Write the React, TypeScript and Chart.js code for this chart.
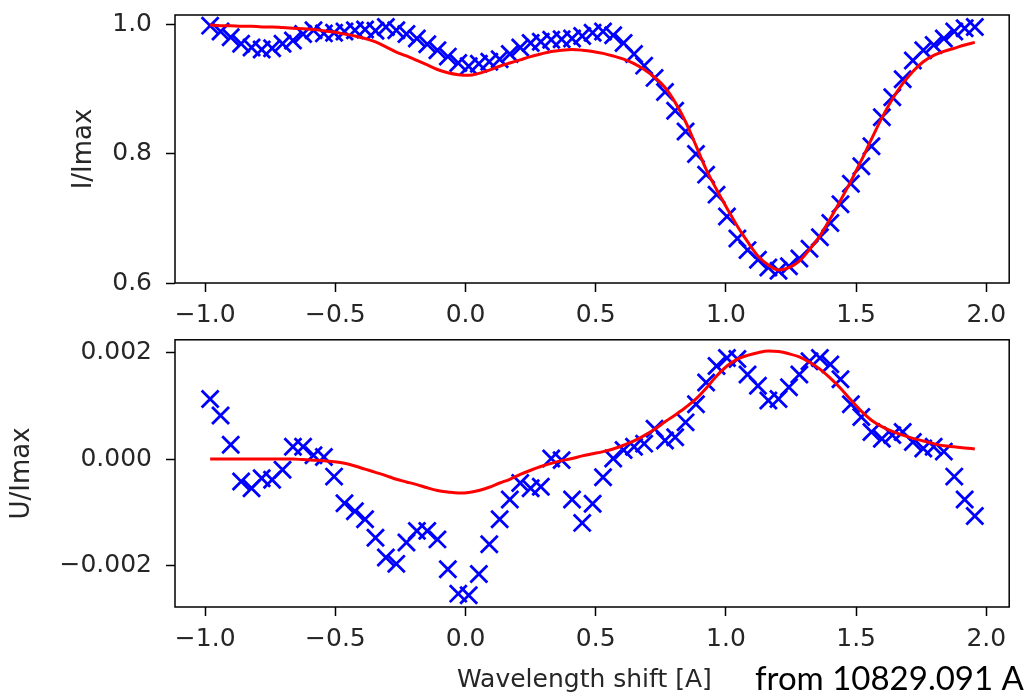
import React, { useEffect, useRef } from 'react';
import { Chart, registerables } from 'chart.js';

Chart.register(...registerables);

// Wavelength shift [A] of each sample
const wavelengthShift = [
  -0.981, -0.941, -0.902, -0.862, -0.822, -0.783, -0.743, -0.703, -0.663, -0.624,
  -0.584, -0.544, -0.505, -0.465, -0.425, -0.386, -0.346, -0.306, -0.266, -0.227,
  -0.187, -0.147, -0.108, -0.068, -0.028, 0.012, 0.051, 0.091, 0.131, 0.170,
  0.210, 0.250, 0.289, 0.329, 0.369, 0.409, 0.448, 0.488, 0.528, 0.567,
  0.607, 0.647, 0.686, 0.726, 0.766, 0.805, 0.845, 0.885, 0.924, 0.964,
  1.004, 1.044, 1.083, 1.123, 1.163, 1.202, 1.242, 1.282, 1.321, 1.361,
  1.401, 1.440, 1.480, 1.520, 1.559, 1.599, 1.639, 1.679, 1.718, 1.758,
  1.798, 1.837, 1.877, 1.917, 1.956,
];

// I/Imax observed (crosses)
const intensityObserved = [
  0.999, 0.990, 0.981, 0.971, 0.965, 0.962, 0.964, 0.971, 0.976, 0.986,
  0.992, 0.987, 0.988, 0.990, 0.992, 0.993, 0.991, 0.997, 0.992, 0.986,
  0.979, 0.970, 0.961, 0.951, 0.941, 0.936, 0.940, 0.943, 0.947, 0.955,
  0.965, 0.972, 0.974, 0.977, 0.978, 0.979, 0.983, 0.988, 0.990, 0.984,
  0.972, 0.955, 0.937, 0.918, 0.896, 0.867, 0.835, 0.800, 0.768, 0.737,
  0.703, 0.669, 0.651, 0.636, 0.624, 0.619, 0.626, 0.638, 0.653, 0.671,
  0.693, 0.722, 0.754, 0.781, 0.812, 0.857, 0.888, 0.916, 0.945, 0.961,
  0.969, 0.979, 0.990, 0.995, 0.997,
];

// I/Imax fit (red line)
const intensityFit = [
  1.000, 0.999, 0.999, 0.998, 0.998, 0.997, 0.997, 0.996, 0.995, 0.994,
  0.993, 0.991, 0.989, 0.986, 0.983, 0.979, 0.974, 0.966, 0.958, 0.952,
  0.945, 0.938, 0.931, 0.926, 0.923, 0.922, 0.925, 0.930, 0.936, 0.941,
  0.946, 0.951, 0.955, 0.959, 0.961, 0.962, 0.961, 0.959, 0.956, 0.952,
  0.947, 0.940, 0.931, 0.919, 0.903, 0.880, 0.850, 0.813, 0.776, 0.745,
  0.716, 0.688, 0.664, 0.642, 0.628, 0.620, 0.624, 0.634, 0.652, 0.673,
  0.700, 0.728, 0.758, 0.790, 0.823, 0.856, 0.885, 0.909, 0.928, 0.943,
  0.953, 0.959, 0.964, 0.969, 0.973,
];

// U/Imax observed, in units of 1e-3
const stokesUObservedE3 = [
  1.13, 0.82, 0.27, -0.42, -0.55, -0.36, -0.39, -0.20, 0.23, 0.23,
  0.07, 0.04, -0.33, -0.83, -0.98, -1.13, -1.48, -1.85, -1.97, -1.57,
  -1.35, -1.35, -1.51, -2.07, -2.53, -2.56, -2.16, -1.60, -1.13, -0.76,
  -0.45, -0.55, -0.52, 0.01, -0.02, -0.76, -1.20, -0.84, -0.34, 0.01,
  0.17, 0.23, 0.29, 0.57, 0.35, 0.41, 0.69, 1.03, 1.44, 1.75,
  1.90, 1.88, 1.59, 1.38, 1.10, 1.13, 1.35, 1.59, 1.84, 1.90,
  1.78, 1.50, 1.03, 0.79, 0.51, 0.38, 0.45, 0.51, 0.32, 0.20,
  0.23, 0.14, -0.33, -0.76, -1.07,
];

// U/Imax fit, in units of 1e-3
const stokesUFitE3 = [
  0.00, 0.00, 0.00, 0.00, 0.00, 0.00, 0.00, 0.00, 0.00, -0.01,
  -0.02, -0.03, -0.05, -0.08, -0.13, -0.19, -0.25, -0.31, -0.38, -0.43,
  -0.48, -0.54, -0.59, -0.62, -0.64, -0.63, -0.59, -0.53, -0.45, -0.38,
  -0.29, -0.21, -0.14, -0.08, -0.03, 0.01, 0.06, 0.10, 0.14, 0.19,
  0.26, 0.34, 0.44, 0.56, 0.70, 0.83, 0.97, 1.13, 1.33, 1.56,
  1.75, 1.88, 1.95, 2.00, 2.03, 2.02, 1.98, 1.92, 1.82, 1.69,
  1.52, 1.33, 1.11, 0.90, 0.73, 0.61, 0.52, 0.45, 0.39, 0.34,
  0.29, 0.25, 0.23, 0.21, 0.19,
];

const xTickValues = [-1.0, -0.5, 0.0, 0.5, 1.0, 1.5, 2.0];
const intensityTickValues = [0.6, 0.8, 1.0];
const stokesUTickValues = [-0.002, 0.0, 0.002];

const xLabel = 'Wavelength shift [A]';
const xLabelNote = 'from 10829.091 A';
const topYLabel = 'I/Imax';
const bottomYLabel = 'U/Imax';

const TEXT = '#262626';
const FONT = "'DejaVu Sans', sans-serif";

function fmt(v: number, digits: number): string {
  const s = Math.abs(v).toFixed(digits);
  return (v < -1e-12 ? '\u2212' : '') + s;
}

function zeroPadding(s: any) {
  s.paddingTop = 0;
  s.paddingBottom = 0;
  s.paddingLeft = 0;
  s.paddingRight = 0;
}

const framePlugin = {
  id: 'frame',
  afterDraw(chart: any) {
    const { ctx, chartArea: a } = chart;
    ctx.save();
    ctx.strokeStyle = '#000';
    ctx.lineWidth = 1.5;
    ctx.strokeRect(a.left, a.top, a.right - a.left, a.bottom - a.top);
    ctx.restore();
  },
};

const noteTextPlugin = {
  id: 'noteText',
  afterDraw(chart: any) {
    const { ctx } = chart;
    ctx.save();
    ctx.fillStyle = TEXT;
    ctx.textBaseline = 'alphabetic';
    ctx.textAlign = 'left';
    ctx.font = `25px ${FONT}`;
    ctx.fillText(xLabel, 457, 362);
    ctx.fillStyle = '#000';
    ctx.font = "33px Lato, 'Open Sans', sans-serif";
    ctx.fillText(xLabelNote, 755, 365);
    ctx.restore();
  },
};

interface PanelOpts {
  obs: number[];
  fit: number[];
  yMin: number;
  yMax: number;
  yTicks: number[];
  yDigits: number;
  yTitle: string;
  yTitlePad: number;
  padTop: number;
  xAxisHeight: number;
  extra: any[];
}

function makeConfig(o: PanelOpts): any {
  const obsPts = o.obs.map((y, i) => ({ x: wavelengthShift[i], y }));
  const fitPts = o.fit.map((y, i) => ({ x: wavelengthShift[i], y }));
  const grid = {
    drawOnChartArea: false,
    drawTicks: true,
    tickLength: 9,
    tickColor: '#000',
    tickWidth: 1.5,
  };
  return {
    type: 'scatter',
    data: {
      datasets: [
        {
          label: 'fit',
          data: fitPts,
          showLine: true,
          borderColor: '#ff0000',
          backgroundColor: '#ff0000',
          borderWidth: 3,
          pointRadius: 0,
          cubicInterpolationMode: 'monotone',
          order: 0,
        },
        {
          label: 'observed',
          data: obsPts,
          showLine: false,
          pointStyle: 'crossRot',
          pointRadius: 12,
          pointBorderWidth: 2.8,
          borderColor: '#0000ff',
          backgroundColor: '#0000ff',
          order: 1,
        },
      ],
    },
    options: {
      responsive: false,
      animation: false,
      devicePixelRatio: 1,
      layout: { padding: { left: 0, right: 4, top: o.padTop, bottom: 0 } },
      plugins: { legend: { display: false }, tooltip: { enabled: false } },
      scales: {
        x: {
          type: 'linear',
          min: -1.116,
          max: 2.088,
          afterBuildTicks: (s: any) => {
            s.ticks = xTickValues.map((v) => ({ value: v }));
          },
          afterFit: (s: any) => {
            s.height = o.xAxisHeight;
            zeroPadding(s);
          },
          ticks: {
            callback: (v: any) => fmt(Number(v), 1),
            font: { family: FONT, size: 25 },
            color: TEXT,
            padding: 8,
            maxRotation: 0,
            autoSkip: false,
          },
          grid,
          border: { display: false },
        },
        y: {
          type: 'linear',
          min: o.yMin,
          max: o.yMax,
          afterBuildTicks: (s: any) => {
            s.ticks = o.yTicks.map((v) => ({ value: v }));
          },
          afterFit: (s: any) => {
            s.width = 175;
            zeroPadding(s);
          },
          ticks: {
            callback: (v: any) => fmt(Number(v), o.yDigits),
            font: { family: FONT, size: 25 },
            color: TEXT,
            padding: 14,
            autoSkip: false,
          },
          title: {
            display: true,
            text: o.yTitle,
            font: { family: FONT, size: 26 },
            color: TEXT,
            padding: { top: o.yTitlePad, bottom: 0 },
          },
          grid,
          border: { display: false },
        },
      },
    },
    plugins: [framePlugin, ...o.extra],
  };
}

export default function App() {
  const topRef = useRef<HTMLCanvasElement>(null);
  const bottomRef = useRef<HTMLCanvasElement>(null);

  useEffect(() => {
    const top = new Chart(
      topRef.current as HTMLCanvasElement,
      makeConfig({
        obs: intensityObserved,
        fit: intensityFit,
        yMin: 0.6,
        yMax: 1.0155,
        yTicks: intensityTickValues,
        yDigits: 1,
        yTitle: topYLabel,
        yTitlePad: 69,
        padTop: 15,
        xAxisHeight: 52,
        extra: [],
      })
    );
    const bottom = new Chart(
      bottomRef.current as HTMLCanvasElement,
      makeConfig({
        obs: stokesUObservedE3.map((v) => v * 1e-3),
        fit: stokesUFitE3.map((v) => v * 1e-3),
        yMin: -0.002781,
        yMax: 0.002242,
        yTicks: stokesUTickValues,
        yDigits: 3,
        yTitle: bottomYLabel,
        yTitlePad: 7,
        padTop: 12,
        xAxisHeight: 89,
        extra: [noteTextPlugin],
      })
    );
    return () => {
      top.destroy();
      bottom.destroy();
    };
  }, []);

  return (
    <div
      style={{
        position: 'fixed',
        left: 0,
        top: 0,
        width: 1024,
        height: 696,
        background: '#fff',
        overflow: 'hidden',
      }}
    >
      <canvas
        ref={topRef}
        width={1024}
        height={335}
        style={{ position: 'absolute', left: 0, top: 0 }}
      />
      <canvas
        ref={bottomRef}
        width={1024}
        height={371}
        style={{ position: 'absolute', left: 0, top: 325 }}
      />
    </div>
  );
}
